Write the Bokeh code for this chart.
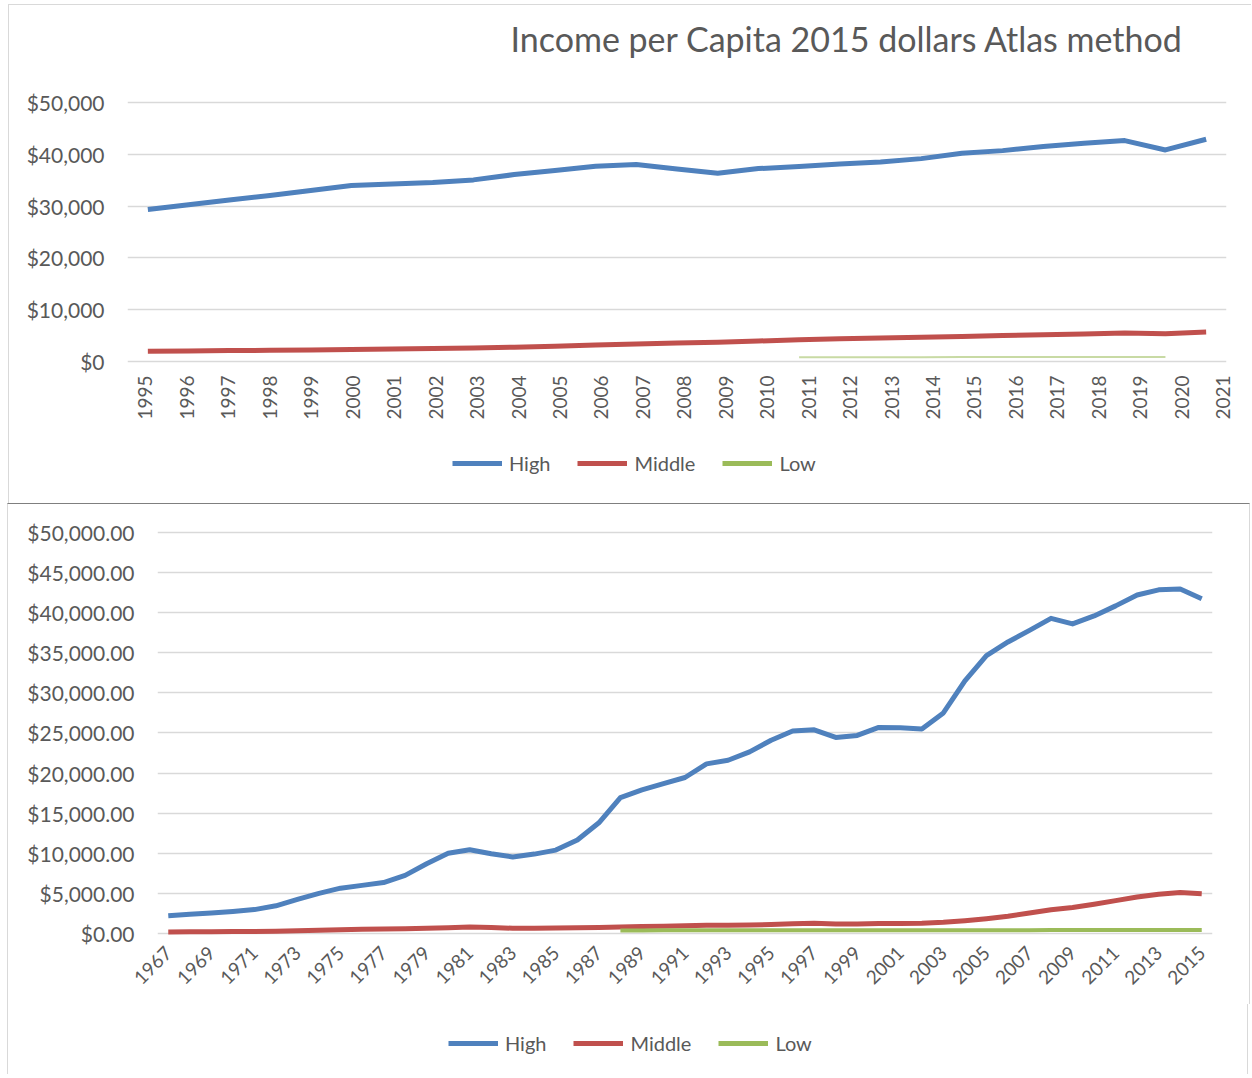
import math
from bokeh.plotting import figure
from bokeh.models import (Range1d, LinearAxis, FixedTicker, NumeralTickFormatter,
                          Legend, LegendItem, Title)
from bokeh.embed import file_html
from bokeh.resources import INLINE

FONT = "Lato"
TEXT = "#595959"
GRID = "#d9d9d9"
BLUE, RED, GREEN = "#4f81bd", "#c0504d", "#9bbb59"

title_text = "Income per Capita 2015 dollars Atlas method"
series_names = ["High", "Middle", "Low"]

# ---- top chart data (1995-2021) ----
years_top = list(range(1995, 2022))
high_top = [29350, 30260, 31200, 32060, 33030, 34000, 34300, 34580, 35100, 36130,
            36900, 37740, 38060, 37230, 36390, 37290, 37680, 38190, 38580, 39220,
            40260, 40770, 41550, 42190, 42710, 40900, 42970]
middle_top = [1870, 1950, 2020, 2080, 2150, 2250, 2330, 2400, 2520, 2680,
              2880, 3100, 3300, 3480, 3650, 3880, 4100, 4300, 4480, 4620,
              4760, 4920, 5080, 5250, 5420, 5300, 5600]
low_top_years = list(range(2011, 2021))
low_top = [740, 745, 750, 750, 755, 755, 760, 760, 760, 755]
y_ticks_top = [0, 10000, 20000, 30000, 40000, 50000]

# ---- bottom chart data (1967-2015) ----
years_bottom = list(range(1967, 2016))
high_bottom = [2220, 2400, 2560, 2750, 2980, 3450, 4250, 5000, 5650, 6000,
               6350, 7250, 8700, 10000, 10450, 9950, 9550, 9900, 10400, 11650,
               13800, 16950, 17900, 18700, 19450, 21150, 21600, 22650, 24100, 25250,
               25400, 24450, 24700, 25700, 25650, 25500, 27500, 31500, 34650, 36350,
               37800, 39300, 38600, 39600, 40850, 42200, 42850, 42950, 41750]
middle_bottom = [200, 215, 230, 245, 260, 290, 340, 420, 480, 520,
                 550, 590, 650, 730, 800, 760, 650, 640, 680, 720,
                 760, 820, 860, 900, 980, 1040, 1040, 1060, 1120, 1220,
                 1280, 1200, 1190, 1240, 1250, 1270, 1400, 1600, 1850, 2150,
                 2550, 2950, 3250, 3650, 4100, 4550, 4900, 5100, 4950]
low_bottom_years = list(range(1988, 2016))
low_bottom = [380, 385, 390, 390, 395, 395, 400, 400, 400, 405,
              405, 405, 410, 410, 410, 415, 415, 420, 420, 420,
              425, 425, 425, 430, 430, 430, 430, 430]
x_ticks_bottom = list(range(1967, 2016, 2))
y_ticks_bottom = [0, 5000, 10000, 15000, 20000, 25000, 30000, 35000, 40000, 45000, 50000]


def style_axis(ax, size, standoff):
    ax.axis_line_color = None
    ax.major_tick_line_color = None
    ax.minor_tick_line_color = None
    ax.major_tick_out = 0
    ax.major_tick_in = 0
    ax.minor_tick_out = 0
    ax.minor_tick_in = 0
    ax.major_label_text_font = FONT
    ax.major_label_text_font_size = size
    ax.major_label_text_color = TEXT
    ax.major_label_standoff = standoff


def legend_figure(width, height, xs, ys_list, loc, styles):
    """A frame-only strip that carries the legend keys of one chart."""
    f = figure(width=width, height=height, min_border=0, x_axis_type=None, y_axis_type=None,
               x_range=Range1d(0, 1), y_range=Range1d(0, 1),
               output_backend="svg", toolbar_location=None, outline_line_color=None,
               styles=styles)
    colors = [BLUE, RED, GREEN]
    rs = []
    for (x, y), c in zip(zip(xs, ys_list), colors):
        rs.append(f.line(x, y, line_color=c, line_width=5, visible=False))
    lg = Legend(items=[LegendItem(label=n, renderers=[r]) for n, r in zip(series_names, rs)],
                location=loc, orientation="horizontal")
    lg.label_text_font = FONT
    lg.label_text_font_size = "20px"
    lg.label_text_color = TEXT
    lg.glyph_width = 50
    lg.glyph_height = 24
    lg.label_height = 24
    lg.label_standoff = 7
    lg.spacing = 27
    lg.padding = 0
    lg.margin = 0
    lg.border_line_color = None
    lg.background_fill_alpha = 0
    lg.inactive_fill_alpha = 0
    f.add_layout(lg)
    return f


# ================= top figure =================
p1 = figure(frame_width=1099, frame_height=263,
            min_border_left=118, min_border_right=25, min_border_top=95, min_border_bottom=67,
            x_range=Range1d(1994.5, 2021.5), y_range=Range1d(-484, 50484),
            x_axis_type=None, output_backend="svg", toolbar_location=None,
            outline_line_color=None, title=title_text,
            styles={"margin-left": "8px", "margin-top": "4px",
                    "border-top": f"1px solid {GRID}", "border-left": f"1px solid {GRID}"})
p1.title.align = "left"
p1.title.offset = 383
p1.title.standoff = 0
p1.title.text_font = FONT
p1.title.text_font_size = "34px"
p1.title.text_font_style = "normal"
p1.title.text_color = TEXT
p1.add_layout(Title(text=" ", text_font_size="10px", standoff=29), "above")

ya1 = p1.yaxis[0]
ya1.ticker = FixedTicker(ticks=y_ticks_top)
ya1.formatter = NumeralTickFormatter(format="$0,0")
style_axis(ya1, "21px", 23)
p1.ygrid.ticker = FixedTicker(ticks=y_ticks_top)
p1.ygrid.grid_line_color = GRID
p1.ygrid.grid_line_width = 1.5

p1.extra_x_ranges = {"lab": Range1d(1994.566, 2021.08)}
xa1 = LinearAxis(x_range_name="lab", ticker=FixedTicker(ticks=years_top),
                 major_label_orientation=math.pi / 2)
style_axis(xa1, "19px", 12)
p1.add_layout(xa1, "below")

p1.line(years_top, high_top, line_color=BLUE, line_width=5, line_join="round")
p1.line(years_top, middle_top, line_color=RED, line_width=5, line_join="round")
p1.line(low_top_years, low_top, line_color=GREEN, line_width=2, line_alpha=0.55)

leg1 = legend_figure(1242, 73,
                     [years_top, years_top, low_top_years], [high_top, middle_top, low_top],
                     (443, 28),
                     {"margin-left": "8px", "border-left": f"1px solid {GRID}"})

# ================= bottom figure =================
p2 = figure(frame_width=1055, frame_height=406,
            min_border_left=149, min_border_right=37, min_border_top=26, min_border_bottom=68,
            x_range=Range1d(1966.5, 2015.5), y_range=Range1d(-374, 50249),
            output_backend="svg", toolbar_location=None, outline_line_color=None,
            styles={"margin-left": "7px",
                    "border-top": "1px solid #7f7f7f", "border-left": f"1px solid {GRID}",
                    "border-right": f"1px solid {GRID}"})
ya2 = p2.yaxis[0]
ya2.ticker = FixedTicker(ticks=y_ticks_bottom)
ya2.formatter = NumeralTickFormatter(format="$0,0.00")
style_axis(ya2, "21px", 23)
p2.ygrid.ticker = FixedTicker(ticks=y_ticks_bottom)
p2.ygrid.grid_line_color = GRID
p2.ygrid.grid_line_width = 1.5
p2.xgrid.grid_line_color = None
xa2 = p2.xaxis[0]
xa2.ticker = FixedTicker(ticks=x_ticks_bottom)
xa2.major_label_orientation = math.pi / 4
style_axis(xa2, "19px", 13)

p2.line(years_bottom, high_bottom, line_color=BLUE, line_width=5, line_join="round")
p2.line(years_bottom, middle_bottom, line_color=RED, line_width=5, line_join="round")
p2.line(low_bottom_years, low_bottom, line_color=GREEN, line_width=4, line_join="round")

leg2 = legend_figure(1241, 70,
                     [years_bottom, years_bottom, low_bottom_years],
                     [high_bottom, middle_bottom, low_bottom],
                     (440, 19),
                     {"margin-left": "7px", "border-left": f"1px solid {GRID}",
                      "border-right": f"1px solid {GRID}"})

open("out.html", "w").write(file_html([p1, leg1, p2, leg2], INLINE))
